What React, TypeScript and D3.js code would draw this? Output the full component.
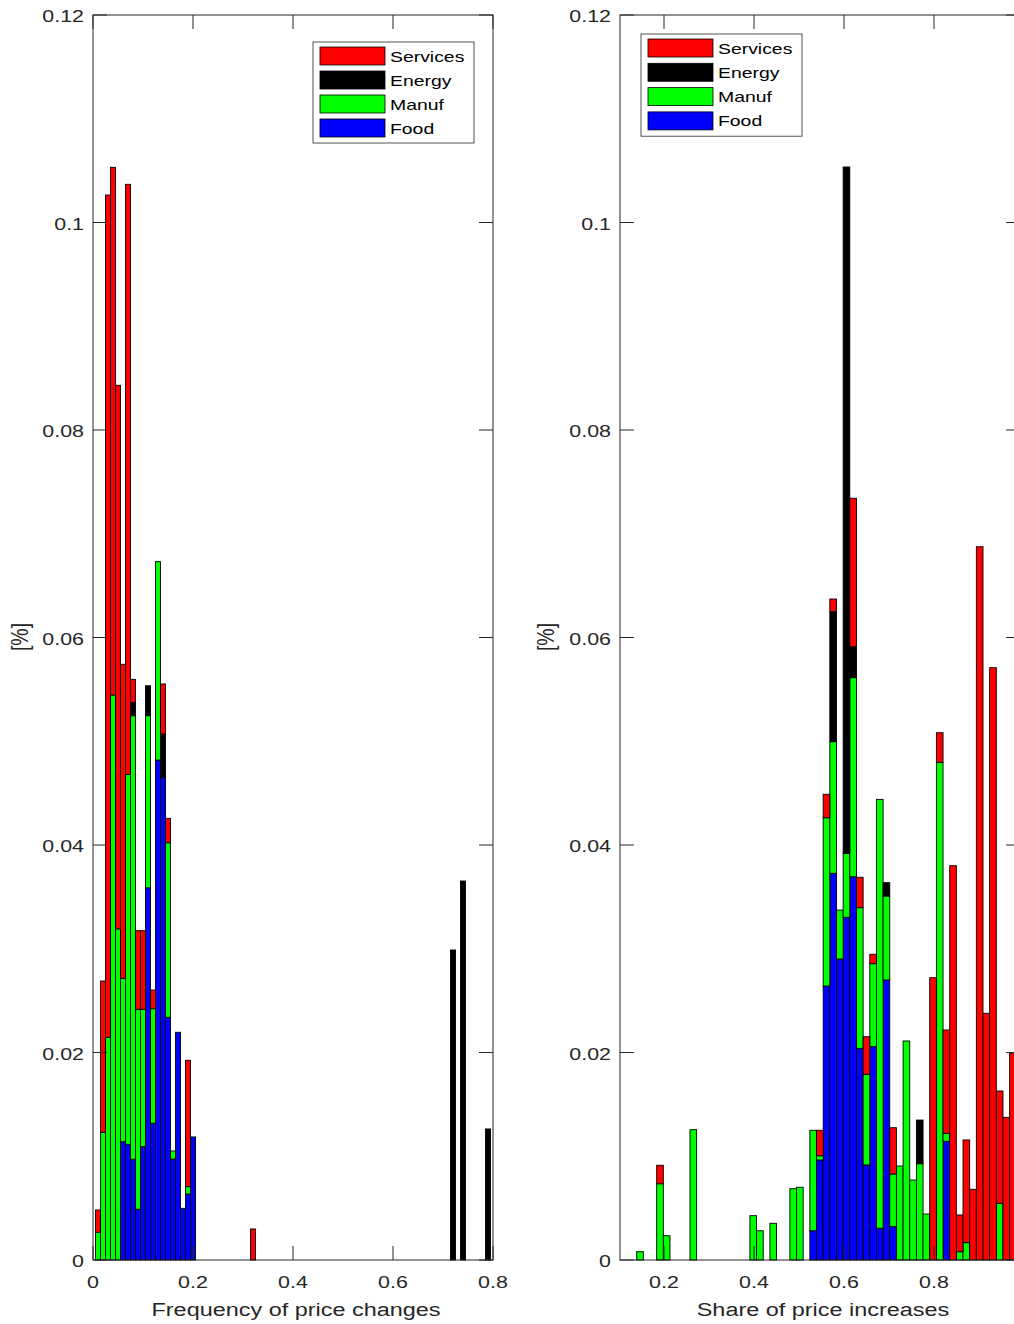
import React from "react";
import * as d3 from "d3";

// ---------- Left panel: frequency of price changes ----------
const leftBins = [0.01, 0.02, 0.03, 0.04, 0.05, 0.06, 0.07, 0.08, 0.09, 0.1, 0.11, 0.12, 0.13, 0.14, 0.15, 0.16, 0.17, 0.18, 0.19, 0.2, 0.32, 0.72, 0.74, 0.79];
const leftFood = [0, 0, 0, 0, 0, 0.0114, 0.01115, 0.00971, 0.00489, 0.01092, 0.03588, 0.01318, 0.04819, 0.04649, 0.02339, 0.00973, 0.02195, 0.00498, 0.00636, 0.01186, 0, 0, 0, 0];
const leftManuf = [0.00267, 0.01231, 0.02147, 0.05446, 0.03192, 0.01575, 0.03566, 0.04275, 0.01927, 0.01324, 0.01658, 0.01104, 0.01912, 0, 0.01683, 0.00078, 0, 0, 0.00071, 0, 0, 0, 0, 0];
const leftEnergy = [0, 0, 0, 0, 0, 0, 0, 0.00129, 0, 0, 0.00289, 0, 0, 0.00421, 0, 0, 0, 0, 0, 0, 0, 0.02988, 0.03653, 0.01263];
const leftServices = [0.00215, 0.01458, 0.08118, 0.05086, 0.05239, 0.03027, 0.05687, 0.00222, 0.00758, 0.00758, 0, 0.0018, 0, 0.00482, 0.00235, 0, 0, 0, 0.01218, 0, 0.00299, 0, 0, 0];

// ---------- Right panel: share of price increases ----------
const rightBins = [0.1467, 0.1911, 0.2059, 0.2651, 0.3983, 0.4131, 0.4427, 0.4871, 0.5019, 0.5315, 0.5463, 0.5611, 0.5759, 0.5907, 0.6055, 0.6203, 0.6351, 0.6499, 0.6647, 0.6795, 0.6943, 0.7091, 0.7239, 0.7387, 0.7535, 0.7683, 0.7831, 0.7979, 0.8127, 0.8275, 0.8423, 0.8571, 0.8719, 0.8867, 0.9015, 0.9163, 0.9311, 0.9459, 0.9607, 0.9755];
const rightFood = [0, 0, 0, 0, 0, 0, 0, 0, 0, 0.00282, 0.00964, 0.02641, 0.03727, 0.02901, 0.03303, 0.03694, 0.0204, 0.00916, 0.02056, 0.00306, 0.02699, 0.00321, 0, 0, 0, 0, 0, 0, 0, 0.01144, 0, 0, 0, 0, 0, 0, 0, 0, 0, 0];
const rightManuf = [0.0008, 0.00735, 0.00234, 0.01256, 0.00427, 0.00282, 0.00354, 0.00687, 0.00701, 0.00968, 0.00041, 0.01622, 0.01269, 0.00472, 0.00617, 0.01919, 0.01356, 0.00874, 0.008, 0.04134, 0.00809, 0.00508, 0.00906, 0.02111, 0.00771, 0.00928, 0.00443, 0, 0.04797, 0.00077, 0, 0.0008, 0.00167, 0, 0, 0, 0, 0.00547, 0, 0];
const rightEnergy = [0, 0, 0, 0, 0, 0, 0, 0, 0, 0, 0, 0, 0.01253, 0, 0.06615, 0.00298, 0, 0, 0, 0, 0.00129, 0, 0, 0, 0, 0.00421, 0, 0, 0, 0, 0, 0, 0, 0, 0, 0, 0, 0, 0, 0];
const rightServices = [0, 0.00178, 0, 0, 0, 0, 0, 0, 0, 0, 0.00245, 0.00226, 0.00122, 0, 0, 0.01431, 0.00293, 0.00362, 0.00091, 0, 0, 0.00446, 0, 0, 0, 0, 0, 0.02721, 0.00285, 0.00996, 0.038, 0.00354, 0.0099, 0.00681, 0.06875, 0.02378, 0.05709, 0.01082, 0.01375, 0.01995];

const seriesKeys = ["Food", "Manuf", "Energy", "Services"];
const seriesColors: Record<string, string> = { Food: "#0000ff", Manuf: "#00ff00", Energy: "#000000", Services: "#ff0000" };
const legendOrder = ["Services", "Energy", "Manuf", "Food"];
const yTicks = [0, 0.02, 0.04, 0.06, 0.08, 0.1, 0.12];
const leftXTicks = [0, 0.2, 0.4, 0.6, 0.8];
const rightXTicks = [0.2, 0.4, 0.6, 0.8, 1];

const FONT = "'Liberation Sans', Arial, Helvetica, sans-serif";
const AX = "#262626";
const Y_TOP = 15;
const Y_BOT = 1260;
const TICK = 14;
const SX = 1.26; // horizontal stretch of the original figure's text

function fmt(v: number) {
  if (v === 0) return "0";
  return String(+v.toFixed(2));
}

function SText(props: { x: number; y: number; size: number; anchor?: string; dy?: string; fill?: string; children: React.ReactNode }) {
  return (
    <text
      transform={`translate(${props.x},${props.y}) scale(${SX},1)`}
      dy={props.dy}
      textAnchor={props.anchor || "start"}
      fontSize={props.size}
      fill={props.fill || AX}
      fontFamily={FONT}
    >
      {props.children}
    </text>
  );
}

type PanelProps = {
  bins: number[];
  food: number[];
  manuf: number[];
  energy: number[];
  services: number[];
  domain: [number, number];
  range: [number, number];
  binWidth: number;
  xTicks: number[];
  xLabel: string;
  yLabelX: number;
  legendX: number;
  legendY: number;
  legendW: number;
  rowH: number;
};

function Panel(p: PanelProps) {
  const x = d3.scaleLinear().domain(p.domain).range(p.range);
  const y = d3.scaleLinear().domain([0, 0.12]).range([Y_BOT, Y_TOP]);
  const rows = p.bins.map((b, i) => ({
    x: b,
    Food: p.food[i],
    Manuf: p.manuf[i],
    Energy: p.energy[i],
    Services: p.services[i],
  }));
  const stacked = d3.stack<any>().keys(seriesKeys)(rows);
  const [x0, x1] = p.range;
  const bw = x(p.domain[0] + p.binWidth) - x(p.domain[0]);
  const xt = p.xTicks.filter((t) => x(t) >= x0 - 0.5 && x(t) <= x1 + 0.5);
  const cx = (x0 + x1) / 2 + 3;
  const rowH = p.rowH;
  return (
    <g>
      {stacked.map((s) => (
        <g key={s.key} fill={seriesColors[s.key]}>
          {s.map((d, i) =>
            d[1] - d[0] > 0 ? (
              <rect
                key={i}
                x={x(rows[i].x) - bw / 2}
                y={y(d[1])}
                width={bw}
                height={y(d[0]) - y(d[1])}
                stroke="#000"
                strokeWidth={0.9}
              />
            ) : null
          )}
        </g>
      ))}
      {/* axes box */}
      <rect x={x0} y={Y_TOP} width={x1 - x0} height={Y_BOT - Y_TOP} fill="none" stroke={AX} strokeWidth={1} />
      {yTicks.map((t) => (
        <g key={"y" + t}>
          <line x1={x0} x2={x0 + TICK} y1={y(t)} y2={y(t)} stroke={AX} />
          <line x1={x1} x2={x1 - TICK} y1={y(t)} y2={y(t)} stroke={AX} />
          <SText x={x0 - 9} y={y(t) + 1} dy="0.36em" anchor="end" size={17}>
            {fmt(t)}
          </SText>
        </g>
      ))}
      {xt.map((t) => (
        <g key={"x" + t}>
          <line x1={x(t)} x2={x(t)} y1={Y_BOT} y2={Y_BOT - TICK} stroke={AX} />
          <line x1={x(t)} x2={x(t)} y1={Y_TOP} y2={Y_TOP + TICK} stroke={AX} />
          <SText x={x(t)} y={Y_BOT + 28} anchor="middle" size={17}>
            {fmt(t)}
          </SText>
        </g>
      ))}
      <SText x={cx} y={1316} anchor="middle" size={18.6}>
        {p.xLabel}
      </SText>
      <text
        transform={`translate(${p.yLabelX},637) rotate(-90) scale(1,${SX})`}
        textAnchor="middle"
        fontSize={19.5}
        fill={AX}
        fontFamily={FONT}
      >
        [%]
      </text>
      {/* legend */}
      <g>
        <rect x={p.legendX} y={p.legendY} width={p.legendW} height={rowH * 4 + 5} fill="#fff" stroke={AX} strokeWidth={0.8} />
        {legendOrder.map((k, i) => (
          <g key={k}>
            <rect
              x={p.legendX + 7}
              y={p.legendY + 5 + i * rowH}
              width={65}
              height={18}
              fill={seriesColors[k]}
              stroke="#000"
              strokeWidth={0.8}
            />
            <SText x={p.legendX + 77} y={p.legendY + 5 + i * rowH + 9} dy="0.36em" size={15.4} fill="#000">
              {k}
            </SText>
          </g>
        ))}
      </g>
    </g>
  );
}

export default function App() {
  return (
    <svg
      width={1014}
      height={1324}
      style={{ position: "absolute", left: 0, top: 0, background: "#fff" }}
    >
      <rect x={0} y={0} width={1014} height={1324} fill="#fff" />
      <Panel
        bins={leftBins}
        food={leftFood}
        manuf={leftManuf}
        energy={leftEnergy}
        services={leftServices}
        domain={[0, 0.8]}
        range={[93, 493]}
        binWidth={0.01}
        xTicks={leftXTicks}
        xLabel="Frequency of price changes"
        yLabelX={28}
        legendX={313}
        legendY={42}
        legendW={161}
        rowH={24}
      />
      <Panel
        bins={rightBins}
        food={rightFood}
        manuf={rightManuf}
        energy={rightEnergy}
        services={rightServices}
        domain={[0.10222, 0.99111]}
        range={[620, 1020]}
        binWidth={0.0148}
        xTicks={rightXTicks}
        xLabel="Share of price increases"
        yLabelX={554}
        legendX={641}
        legendY={34}
        legendW={161}
        rowH={24.3}
      />
    </svg>
  );
}
